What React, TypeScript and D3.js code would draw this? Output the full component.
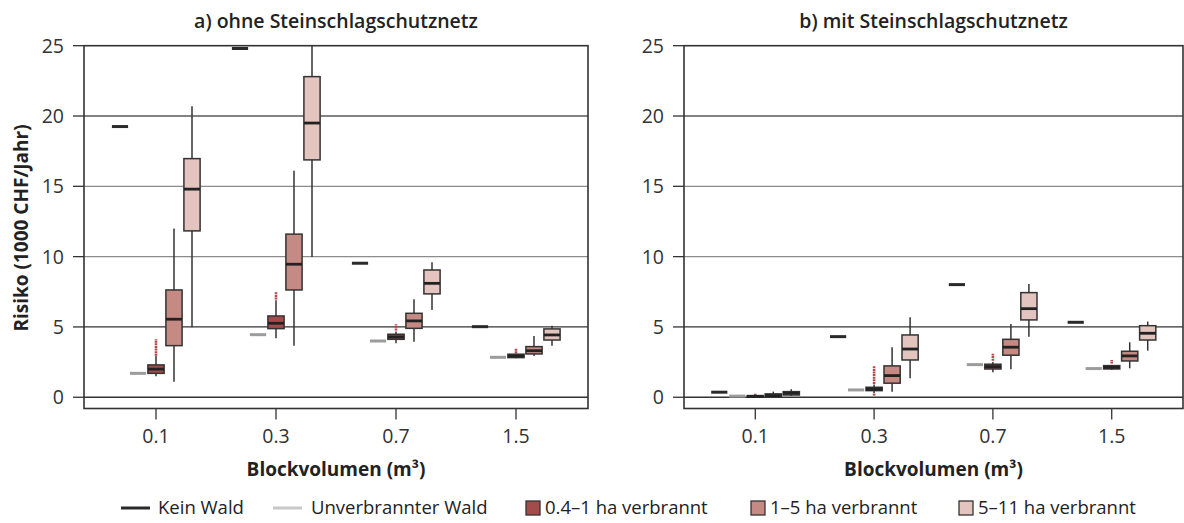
import React from 'react';
import {scaleLinear, scalePoint, scaleBand} from 'd3';

// Blockvolumen categories and series
const categories = ['0.1', '0.3', '0.7', '1.5'];
const seriesNames = [
  'Kein Wald',
  'Unverbrannter Wald',
  '0.4–1 ha verbrannt',
  '1–5 ha verbrannt',
  '5–11 ha verbrannt',
];
const yTicks = [0, 5, 10, 15, 20, 25];

// a) ohne Steinschlagschutznetz
const keinWaldA = [19.25, 24.8, 9.53, 5.02];
const unverbranntA = [1.7, 4.45, 4.0, 2.84];
// [whisker low, q1, median, q3, whisker high]
const burn04A = [
  [1.5, 1.7, 2.0, 2.3, 2.95],
  [4.2, 4.88, 5.26, 5.78, 6.9],
  [3.84, 4.12, 4.29, 4.48, 4.67],
  [2.77, 2.82, 2.93, 3.06, 3.1],
];
const burn04OutA = [[[2.95, 4.12]], [[6.95, 7.5]], [[4.75, 5.2]], [[3.13, 3.48]]];
const burn15A = [
  [1.1, 3.67, 5.55, 7.63, 12.0],
  [3.67, 7.63, 9.46, 11.6, 16.1],
  [3.95, 4.9, 5.43, 5.97, 6.97],
  [2.94, 3.08, 3.31, 3.6, 4.36],
];
const burn511A = [
  [4.98, 11.83, 14.8, 16.97, 20.7],
  [9.98, 16.88, 19.5, 22.8, 25],
  [6.2, 7.35, 8.1, 9.05, 9.6],
  [3.67, 4.07, 4.43, 4.86, 5.09],
];

// b) mit Steinschlagschutznetz
const keinWaldB = [0.36, 4.31, 8.01, 5.33];
const unverbranntB = [0.08, 0.52, 2.32, 2.04];
const burn04B = [
  [0.0, 0.02, 0.06, 0.12, 0.15],
  [0.3, 0.47, 0.58, 0.71, 0.9],
  [1.78, 2.01, 2.18, 2.35, 2.5],
  [1.94, 2.01, 2.13, 2.25, 2.3],
];
const burn04OutB = [[[0.15, 0.25]], [[0.12, 0.28], [0.95, 2.2]], [[2.6, 3.1]], [[2.4, 2.65]]];
const burn15B = [
  [0.02, 0.04, 0.12, 0.24, 0.4],
  [0.4, 1.0, 1.54, 2.23, 3.56],
  [1.99, 2.99, 3.56, 4.12, 5.21],
  [2.06, 2.58, 2.94, 3.27, 3.91],
];
const burn511B = [
  [0.09, 0.16, 0.28, 0.4, 0.57],
  [1.35, 2.65, 3.43, 4.43, 5.69],
  [4.31, 5.5, 6.3, 7.44, 8.06],
  [3.31, 4.07, 4.55, 5.09, 5.38],
];

const boxColors = ['#a34c4b', '#c58a84', '#e4c4bf'];
const lineColors = ['#2a2a2a', '#9c9c9c'];
const gridColors: Record<number, string> = {0: '#333', 5: '#333', 10: '#8c8c8c', 15: '#8c8c8c', 20: '#5a5a5a'};
const font = '"Open Sans", "Noto Sans", sans-serif';

const TOP = 45.7;
const BOTTOM = 408.5;

interface PanelProps {
  title: string;
  left: number;
  right: number;
  keinWald: number[];
  unverbrannt: number[];
  boxes: number[][][];
  outliers: number[][][];
}

const Panel = ({title, left, right, keinWald, unverbrannt, boxes, outliers}: PanelProps) => {
  const y = scaleLinear().domain([-0.8, 25]).range([BOTTOM, TOP]);
  const x = scalePoint<string>().domain(categories).range([left, right]).padding(0.6);
  const x1 = scaleBand<string>()
    .domain(seriesNames)
    .range([-45, 45])
    .paddingInner(0.1)
    .paddingOuter(0.05);
  const bw = x1.bandwidth();
  const mid = (left + right) / 2;

  return (
    <g>
      <text x={mid} y={28} textAnchor="middle" fontFamily={font} fontWeight={600} fontSize={19.5} fill="#222">
        {title}
      </text>
      {yTicks.filter(t => t < 25).map(t => (
        <line key={'g' + t} x1={left} x2={right} y1={y(t)} y2={y(t)} stroke={gridColors[t]} strokeWidth={1.3} />
      ))}
      <rect x={left} y={TOP} width={right - left} height={BOTTOM - TOP} fill="none" stroke="#333" strokeWidth={1.6} />
      {yTicks.map(t => (
        <g key={'t' + t}>
          <line x1={left - 11} x2={left} y1={y(t)} y2={y(t)} stroke="#333" strokeWidth={1.3} />
          <text x={left - 20} y={y(t)} dy="0.36em" textAnchor="end" fontFamily={font} fontSize={19.5} fill="#333">
            {t}
          </text>
        </g>
      ))}
      {categories.map(c => (
        <g key={'x' + c}>
          <line x1={x(c)} x2={x(c)} y1={BOTTOM} y2={BOTTOM + 11} stroke="#333" strokeWidth={1.3} />
          <text x={x(c)} y={443} textAnchor="middle" fontFamily={font} fontSize={19.5} fill="#333">
            {c}
          </text>
        </g>
      ))}
      <text x={mid} y={476} textAnchor="middle" fontFamily={font} fontWeight={700} fontSize={19} fill="#222">
        Blockvolumen (m³)
      </text>
      {categories.map((c, i) => {
        const cx = x(c) as number;
        return (
          <g key={'d' + c}>
            <line
              x1={cx + (x1(seriesNames[0]) as number)}
              x2={cx + (x1(seriesNames[0]) as number) + bw}
              y1={y(keinWald[i])}
              y2={y(keinWald[i])}
              stroke={lineColors[0]}
              strokeWidth={3}
            />
            <line
              x1={cx + (x1(seriesNames[1]) as number)}
              x2={cx + (x1(seriesNames[1]) as number) + bw}
              y1={y(unverbrannt[i])}
              y2={y(unverbrannt[i])}
              stroke={lineColors[1]}
              strokeWidth={3}
            />
            {boxes.map((series, s) => {
              const [lo, q1, med, q3, hi] = series[i];
              const bx = cx + (x1(seriesNames[s + 2]) as number);
              const bc = bx + bw / 2;
              return (
                <g key={'b' + s}>
                  <line x1={bc} x2={bc} y1={y(lo)} y2={y(hi)} stroke="#333" strokeWidth={1.5} />
                  {s === 0 &&
                    outliers[i].map((o, k) => (
                      <line
                        key={k}
                        x1={bc}
                        x2={bc}
                        y1={y(o[0])}
                        y2={y(o[1])}
                        stroke="#b4484a"
                        strokeWidth={2.6}
                        strokeDasharray="2 0.6"
                      />
                    ))}
                  <rect
                    x={bx}
                    y={y(q3)}
                    width={bw}
                    height={Math.max(1, y(q1) - y(q3))}
                    fill={boxColors[s]}
                    stroke="#333"
                    strokeWidth={1.5}
                  />
                  <line x1={bx} x2={bx + bw} y1={y(med)} y2={y(med)} stroke="#222" strokeWidth={2.8} />
                </g>
              );
            })}
          </g>
        );
      })}
    </g>
  );
};

const Legend = () => {
  const cy = 508;
  const items = [
    {label: seriesNames[0], kind: 'line', color: lineColors[0], x: 121, tx: 158},
    {label: seriesNames[1], kind: 'line', color: '#c8c8c8', x: 273, tx: 311},
    {label: seriesNames[2], kind: 'box', color: boxColors[0], x: 526, tx: 545},
    {label: seriesNames[3], kind: 'box', color: boxColors[1], x: 751, tx: 770},
    {label: seriesNames[4], kind: 'box', color: boxColors[2], x: 959, tx: 978},
  ];
  return (
    <g>
      {items.map(it => (
        <g key={it.label}>
          {it.kind === 'line' ? (
            <line x1={it.x} x2={it.x + 29} y1={cy} y2={cy} stroke={it.color} strokeWidth={3} />
          ) : (
            <rect x={it.x} y={cy - 7} width={14} height={14} fill={it.color} stroke="#333" strokeWidth={1.3} />
          )}
          <text x={it.tx} y={cy} dy="0.35em" fontFamily={font} fontSize={18.5} fill="#222">
            {it.label}
          </text>
        </g>
      ))}
    </g>
  );
};

export default function App() {
  return (
    <svg width={1184} height={523} style={{position: 'absolute', left: 0, top: 0, background: '#fff'}}>
      <rect width={1184} height={523} fill="#fff" />
      <text
        transform="translate(21, 228) rotate(-90)"
        textAnchor="middle"
        dy="0.36em"
        fontFamily={font}
        fontWeight={700}
        fontSize={19}
        fill="#222">
        Risiko (1000 CHF/Jahr)
      </text>
      <Panel
        title="a) ohne Steinschlagschutznetz"
        left={84}
        right={588}
        keinWald={keinWaldA}
        unverbrannt={unverbranntA}
        boxes={[burn04A, burn15A, burn511A]}
        outliers={burn04OutA}
      />
      <Panel
        title="b) mit Steinschlagschutznetz"
        left={684}
        right={1183}
        keinWald={keinWaldB}
        unverbrannt={unverbranntB}
        boxes={[burn04B, burn15B, burn511B]}
        outliers={burn04OutB}
      />
      <Legend />
    </svg>
  );
}
